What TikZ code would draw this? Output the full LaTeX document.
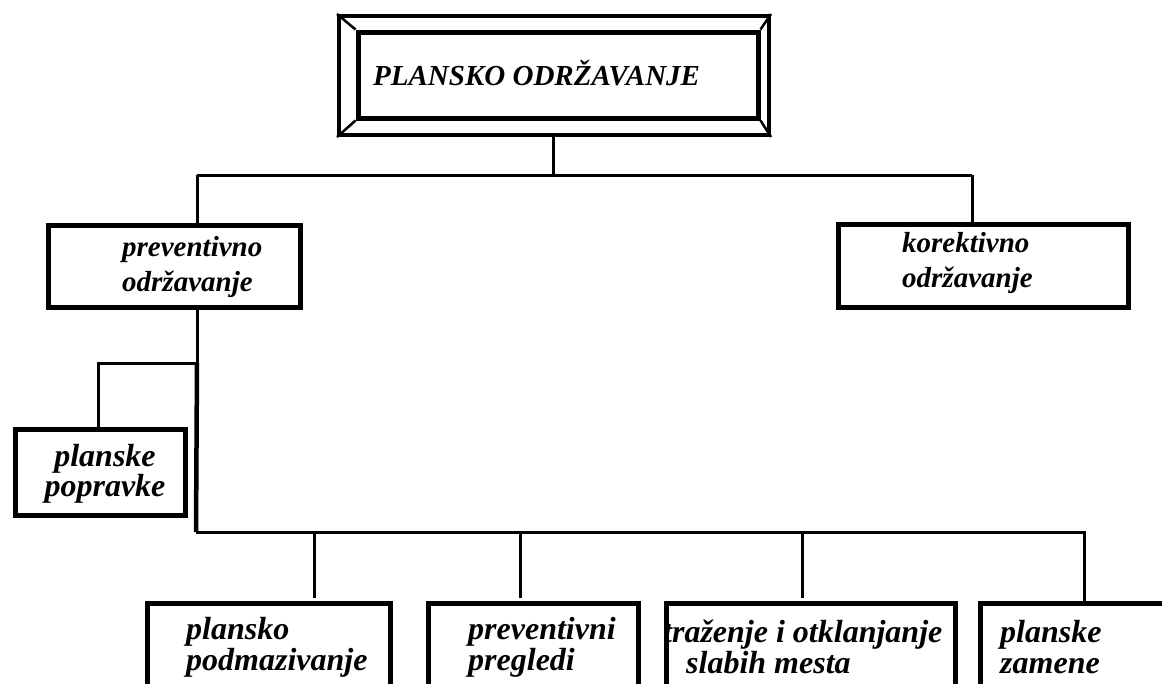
\documentclass[tikz,border=0pt]{standalone}
\usepackage{fontspec}
\setmainfont{Liberation Serif}
\begin{document}
\begin{tikzpicture}[x=1pt,y=-1pt,
  box/.style={draw, line width=5pt, inner sep=0pt, anchor=north west},
  conn/.style={line width=3pt},
  lbl/.style={inner sep=0pt, anchor=west, font=\fontsize{32}{31}\selectfont\bfseries\itshape},
  lblm/.style={inner sep=0pt, anchor=west, font=\fontsize{29}{35}\selectfont\bfseries\itshape},
  frame/.style={draw, line width=4pt}]
\useasboundingbox (0,0) rectangle (1162,683);
\clip (0,0) rectangle (1162,683);
% title
\node[frame, minimum width=430pt, minimum height=119pt, anchor=north west, inner sep=0pt] (tout) at (337,14) {};
\node[draw, line width=5pt, minimum width=400pt, minimum height=86pt, anchor=north west, inner sep=0pt] (tin) at (355.5,29.5) {};
\draw[line width=2.5pt] (tout.north west) -- (tin.north west);
\draw[line width=2.5pt] (tout.north east) -- (tin.north east);
\draw[line width=2.5pt] (tout.south west) -- (tin.south west);
\draw[line width=2.5pt] (tout.south east) -- (tin.south east);
\node[lblm] (tt) at (373,73) {PLANSKO ODRŽAVANJE};
% level 2
\node[box, minimum width=252pt, minimum height=82pt] (prev) at (45.5,222.5) {};
\node[lblm, align=left] (prevt) at (122,267) {preventivno\\održavanje};
\node[box, minimum width=290pt, minimum height=83pt] (kor) at (835.5,221.5) {};
\node[lblm, align=left] (kort) at (902,263) {korektivno\\održavanje};
% planske popravke
\node[box, minimum width=170pt, minimum height=86pt] (pp) at (12.5,426.5) {};
\node[lbl, align=center, anchor=center, font=\fontsize{32}{29}\selectfont\bfseries\itshape] (ppt) at (105,474) {planske\\popravke};
% bottom boxes
\node[box, minimum width=243pt, minimum height=110pt] (b1) at (144.5,600.5) {};
\node[lbl, align=left] (b1t) at (186,647) {plansko\\podmazivanje};
\node[box, minimum width=210pt, minimum height=110pt] (b2) at (425.5,600.5) {};
\node[lbl, align=left] (b2t) at (468,647) {preventivni\\pregledi};
\node[box, minimum width=289pt, minimum height=110pt] (b3) at (663.5,600.5) {};
\node[lbl, align=left] (b3t) at (663,647) {traženje i otklanjanje\\\hspace*{23pt}slabih mesta};
\node[box, minimum width=220pt, minimum height=110pt] (b4) at (977.5,600.5) {};
\node[lbl, align=left] (b4t) at (1000,647) {planske\\zamene};
% connectors
\coordinate (h1) at (553,175);
\coordinate (hl) at (197,175);
\coordinate (hr) at (972,175);
\draw[conn] (tout.south -| h1) -- (h1);
\draw[conn] (hl) -- (hr);
\draw[conn] (hl) -- (hl |- prev.north);
\draw[conn] (hr) -- (hr |- kor.north);
\coordinate (v1) at (197,363);
\coordinate (v2) at (98,363);
\coordinate (hb) at (196,532);
\coordinate (hbr) at (1084,532);
\draw[conn] (v1 |- prev.south) -- (v1);
\draw[line width=4.5pt] (v1) -- (hb);
\draw[conn] (v1) -- (v2) -- (v2 |- pp.north);
\draw[conn] (hb) -- (hbr) -- (hbr |- b4.north);
\draw[conn] (314,532) -- (314 ,598);
\draw[conn] (520,532) -- (520,598);
\draw[conn] (802,532) -- (802,598);
\end{tikzpicture}
\end{document}
